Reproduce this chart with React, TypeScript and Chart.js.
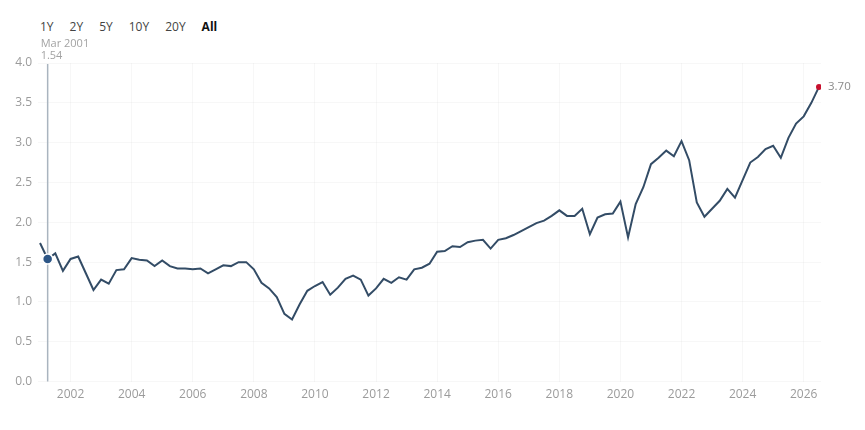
import React, { useEffect, useRef } from "react";
import { Chart, registerables } from "chart.js";

Chart.register(...registerables);

// Quarterly observations, first one is Dec 2000, last one Jun 2026
const startYear = 2000;
const startMonth = 11; // 0-based month index of the first observation (Dec)
const values = [
  1.74, 1.54, 1.61, 1.39, 1.54, 1.57, 1.36, 1.15, 1.28, 1.23,
  1.40, 1.41, 1.55, 1.53, 1.52, 1.45, 1.52, 1.45, 1.42, 1.42,
  1.41, 1.42, 1.36, 1.41, 1.46, 1.45, 1.50, 1.50, 1.41, 1.24,
  1.17, 1.06, 0.85, 0.78, 0.97, 1.14, 1.20, 1.25, 1.09, 1.18,
  1.29, 1.33, 1.28, 1.08, 1.17, 1.29, 1.24, 1.31, 1.28, 1.41,
  1.43, 1.48, 1.63, 1.64, 1.70, 1.69, 1.75, 1.77, 1.78, 1.67,
  1.78, 1.80, 1.84, 1.89, 1.94, 1.99, 2.02, 2.08, 2.15, 2.08,
  2.08, 2.17, 1.85, 2.06, 2.10, 2.11, 2.26, 1.81, 2.23, 2.44,
  2.73, 2.81, 2.90, 2.83, 3.02, 2.78, 2.25, 2.07, 2.17, 2.27,
  2.42, 2.31, 2.53, 2.75, 2.82, 2.92, 2.96, 2.81, 3.06, 3.24,
  3.33, 3.50, 3.70,
];
const monthNames = ["Jan", "Feb", "Mar", "Apr", "May", "Jun", "Jul", "Aug", "Sep", "Oct", "Nov", "Dec"];
const xTickYears = [2002, 2004, 2006, 2008, 2010, 2012, 2014, 2016, 2018, 2020, 2022, 2024, 2026];
const yTickValues = [0, 0.5, 1, 1.5, 2, 2.5, 3, 3.5, 4];
const rangeButtons = ["1Y", "2Y", "5Y", "10Y", "20Y", "All"];
const activeRange = "All";
const hoverIndex = 1;

const dates = values.map((_, i) => {
  const m = startMonth + 3 * i;
  return { year: startYear + Math.floor(m / 12), month: m % 12 };
});
const points = values.map((v, i) => ({ x: dates[i].year + (dates[i].month + 1) / 12, y: v }));

const FONT = "'Open Sans', 'DejaVu Sans', sans-serif";
const LINE_COLOR = "#334c66";
const LAST_COLOR = "#c8102e";
const HOVER_COLOR = "#2d5686";

const overlayPlugin = {
  id: "overlay",
  beforeDatasetsDraw(chart: any) {
    const { ctx, chartArea, scales } = chart;
    const x = scales.x.getPixelForValue(points[hoverIndex].x);
    ctx.save();
    ctx.strokeStyle = "#a9b4bf";
    ctx.lineWidth = 1.5;
    ctx.beginPath();
    ctx.moveTo(x, chartArea.top + 1);
    ctx.lineTo(x, chartArea.bottom);
    ctx.stroke();
    ctx.restore();
  },
  afterDraw(chart: any) {
    const { ctx, scales } = chart;
    const hx = scales.x.getPixelForValue(points[hoverIndex].x);
    const d = dates[hoverIndex];
    ctx.save();
    ctx.font = `11px ${FONT}`;
    ctx.fillStyle = "#a3a3a3";
    ctx.textAlign = "left";
    ctx.textBaseline = "middle";
    ctx.fillText(`${monthNames[d.month]} ${d.year}`, hx - 7, 44);
    ctx.fillText(values[hoverIndex].toFixed(2), hx - 7, 56);

    const li = values.length - 1;
    const lx = scales.x.getPixelForValue(points[li].x);
    const ly = scales.y.getPixelForValue(values[li]);
    ctx.font = `11.5px ${FONT}`;
    ctx.fillStyle = "#8c8c8c";
    ctx.fillText(values[li].toFixed(2), lx + 9, ly);
    ctx.restore();
  },
};

function App() {
  const canvasRef = useRef<HTMLCanvasElement | null>(null);

  useEffect(() => {
    if (!canvasRef.current) return;
    const last = values.length - 1;
    const chart = new Chart(canvasRef.current, {
      type: "line",
      data: {
        datasets: [
          {
            data: points,
            borderColor: LINE_COLOR,
            borderWidth: 2,
            tension: 0,
            pointRadius: (c: any) => (c.dataIndex === hoverIndex ? 5 : c.dataIndex === last ? 3 : 0),
            pointBackgroundColor: (c: any) => (c.dataIndex === last ? LAST_COLOR : HOVER_COLOR),
            pointBorderColor: (c: any) => (c.dataIndex === last ? LAST_COLOR : "#ffffff"),
            pointBorderWidth: (c: any) => (c.dataIndex === hoverIndex ? 1.5 : 0),
            pointHoverRadius: 0,
          },
        ],
      },
      options: {
        animation: false,
        responsive: true,
        maintainAspectRatio: false,
        layout: { padding: { top: 63, right: 44, bottom: 22, left: 0 } },
        plugins: { legend: { display: false }, tooltip: { enabled: false } },
        events: [],
        scales: {
          x: {
            type: "linear",
            min: 2000.934,
            max: 2026.566,
            afterBuildTicks: (scale: any) => {
              scale.ticks = xTickYears.map((v) => ({ value: v }));
            },
            ticks: {
              callback: (v: any) => String(v),
              color: "#9b9b9b",
              font: { family: FONT, size: 12 },
              padding: 6,
              maxRotation: 0,
              autoSkip: false,
            },
            grid: { color: "rgba(0,0,0,0.03)", drawTicks: false },
            border: { display: false },
          },
          y: {
            min: 0,
            max: 4,
            afterBuildTicks: (scale: any) => {
              scale.ticks = yTickValues.map((v) => ({ value: v }));
            },
            afterFit: (scale: any) => {
              scale.width = 38;
            },
            ticks: {
              callback: (v: any) => Number(v).toFixed(1),
              color: "#9b9b9b",
              font: { family: FONT, size: 12 },
              padding: 6,
            },
            grid: { color: "rgba(0,0,0,0.03)", drawTicks: false },
            border: { display: false },
          },
        },
      },
      plugins: [overlayPlugin],
    } as any);
    return () => chart.destroy();
  }, []);

  return (
    <div style={{ position: "fixed", left: 0, top: 0, width: 865, height: 430, background: "#fff" }}>
      <div style={{ position: "absolute", left: 40, top: 18, display: "flex", fontFamily: FONT, fontSize: 12 }}>
        {rangeButtons.map((b) => (
          <span
            key={b}
            style={{
              marginRight: 16,
              color: b === activeRange ? "#111" : "#444",
              fontWeight: b === activeRange ? 700 : 400,
            }}
          >
            {b}
          </span>
        ))}
      </div>
      <canvas ref={canvasRef} style={{ position: "absolute", left: 0, top: 0, width: 865, height: 430 }} />
    </div>
  );
}

export default App;
